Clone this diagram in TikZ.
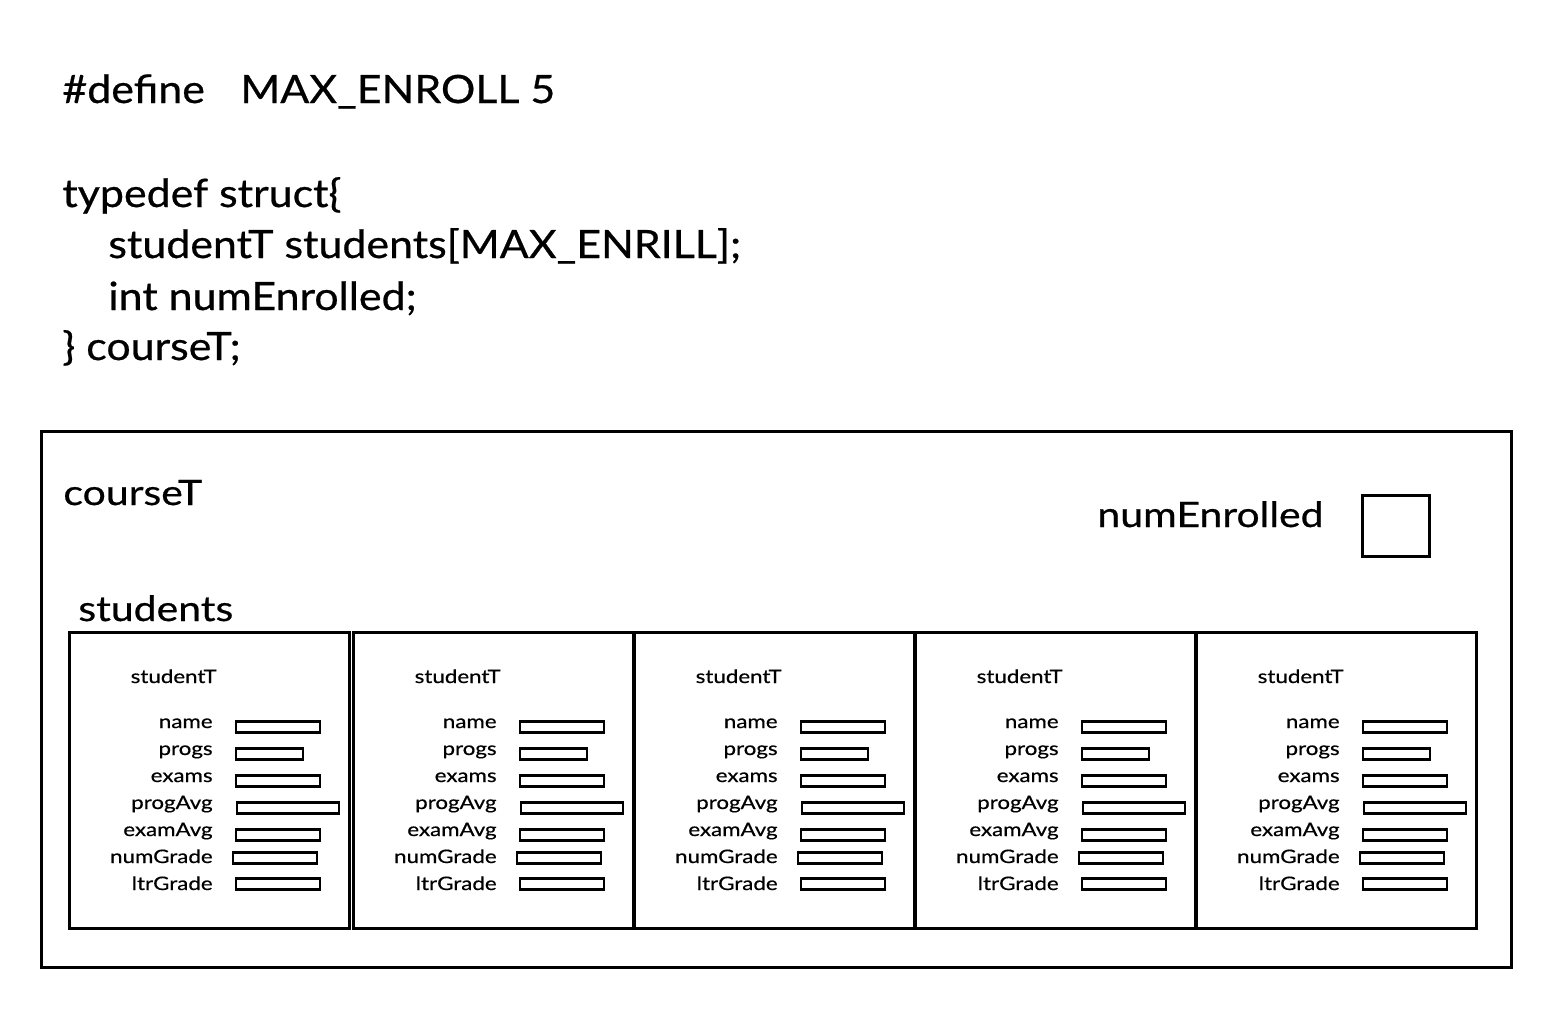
\documentclass[tikz,border=0pt]{standalone}
\usepackage{fontspec}
\setmainfont{Lato}
\newfontfamily\codefont{Lato}[FakeStretch=1.1,FakeBold=0.6]
\newfontfamily\bigfont{Lato}[FakeStretch=1.17,FakeBold=0.6]
\newfontfamily\smallfont{Lato}[FakeStretch=1.2,FakeBold=0.5]
\begin{document}
\begin{tikzpicture}[x=0.5pt,y=-0.5pt,
  box/.style={draw,line width=1.5pt},
  bar/.style={draw,line width=1.4pt},
  code/.style={anchor=base west,inner sep=0,font=\codefont\fontsize{19.5}{23}\selectfont},
  big/.style={anchor=base west,inner sep=0,font=\bigfont\fontsize{17.5}{21}\selectfont},
  fld/.style={anchor=base east,inner sep=0,font=\smallfont\fontsize{9.3}{11}\selectfont}]
\useasboundingbox (0,0) rectangle (1566,1008);
% code text
\node[code] (l1) at (62,103) {\#define};
\node[code] (l1b) at (240,103) {MAX\_ENROLL 5};
\node[code] (l2) at (62,207) {typedef struct\{};
\node[code] (l3) at (108,258) {studentT students[MAX\_ENRILL];};
\node[code] (l4) at (108,310) {int numEnrolled;};
\node[code] (l5) at (62,360) {\} courseT;};
% outer box
\draw[box] (41,431) rectangle (1511,967);
\node[big] (ct) at (63,505) {courseT};
\node[big] (ne) at (1097,527) {numEnrolled};
\draw[box] (1362,495) rectangle (1429,556);
\node[big] (stu) at (78,621) {students};
% student boxes
\foreach \L [count=\k] in {69,353,634,915,1196} {
  \draw[box] (\L,632) rectangle ++(280,296);
  \node[fld] (st\k) at (\L+148,683) {studentT};
  \foreach \n/\b/\c/\xa/\xb in {name/728/727/167/251,progs/755/754/167/234,exams/782/781/167/251,progAvg/809/808/168/270,examAvg/836/835/167/251,numGrade/863/858/164/248,ltrGrade/890/884/167/251} {
    \node[fld] (f\k\n) at (\L+144,\b) {\n};
    \draw[bar] (\L+\xa,\c-5.5) rectangle (\L+\xb,\c+5.5);
  }
}
\end{tikzpicture}
\end{document}
